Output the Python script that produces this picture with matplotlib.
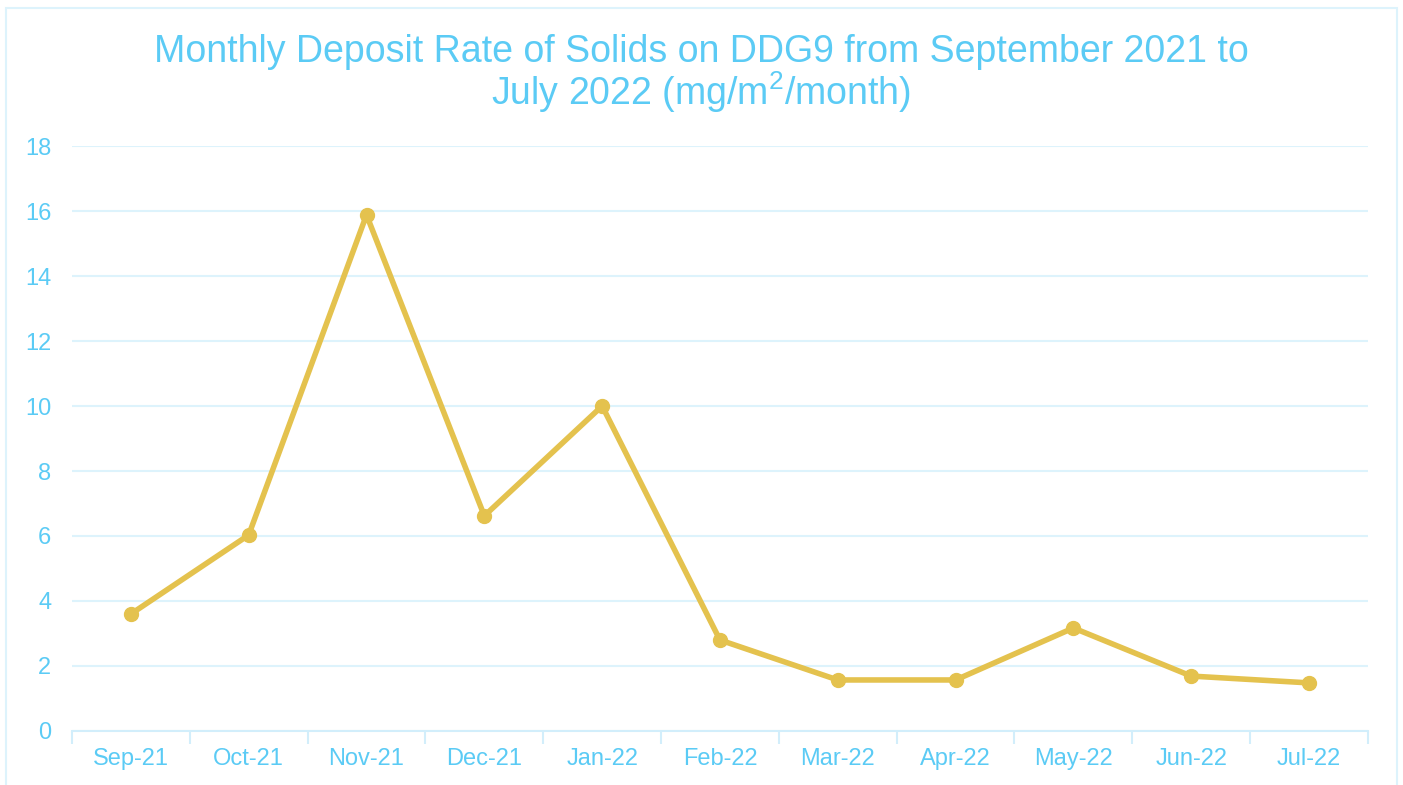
import matplotlib

matplotlib.use("Agg")
import matplotlib.pyplot as plt
import numpy as np
from matplotlib.patches import Rectangle

COLOR_TEXT = "#5BCBF5"
COLOR_LINE = "#E4C24E"
COLOR_GRID = "#DDF3FC"
COLOR_AXIS = "#D2EEFB"

months = ["Sep-21", "Oct-21", "Nov-21", "Dec-21", "Jan-22", "Feb-22",
          "Mar-22", "Apr-22", "May-22", "Jun-22", "Jul-22"]
deposit_rate = [3.6, 6.03, 15.88, 6.62, 10.0, 2.8, 1.57, 1.57, 3.17, 1.69, 1.48]
y_ticks = [0, 2, 4, 6, 8, 10, 12, 14, 16, 18]

plt.rcParams["font.family"] = ["Liberation Sans", "DejaVu Sans"]
plt.rcParams["mathtext.default"] = "regular"

fig = plt.figure(figsize=(14.03, 7.85), dpi=100)
ax = fig.add_axes([0.0513, 0.0688, 0.9237, 0.7452])

x = np.arange(len(months))
ax.plot(x, deposit_rate, color=COLOR_LINE, lw=4, marker="o", markersize=10,
        solid_joinstyle="round", zorder=3)

ax.set_xlim(-0.5, len(months) - 0.5)
ax.set_ylim(0, 18)
ax.set_yticks(y_ticks)
ax.grid(axis="y", color=COLOR_GRID, lw=1.5)
ax.set_axisbelow(True)

ax.set_xticks(x)
ax.set_xticklabels(months)
ax.set_xticks(np.arange(len(months) + 1) - 0.5, minor=True)
ax.tick_params(axis="x", which="major", length=0, pad=12, labelsize=17, labelcolor=COLOR_TEXT)
ax.tick_params(axis="x", which="minor", length=9, width=1.5, color=COLOR_AXIS, direction="out")
ax.tick_params(axis="y", length=0, pad=15, labelsize=17, labelcolor=COLOR_TEXT)

for side in ["top", "right", "left"]:
    ax.spines[side].set_visible(False)
ax.spines["bottom"].set_color(COLOR_AXIS)
ax.spines["bottom"].set_linewidth(1.5)

# title in two lines, each placed on its own baseline
fig.text(0.5, 0.921, "Monthly Deposit Rate of Solids on DDG9 from September 2021 to",
         ha="center", va="baseline", fontsize=27, color=COLOR_TEXT)
fig.text(0.5, 0.866, "July 2022 (mg/m$^{2}$/month)",
         ha="center", va="baseline", fontsize=27, color=COLOR_TEXT)

fig.patches.append(Rectangle((6 / 1403, -0.01), 1391 / 1403, 1.01 - 8 / 785,
                             transform=fig.transFigure, fill=False,
                             edgecolor=COLOR_GRID, lw=1.5))

fig.savefig("out.png", dpi=100)
